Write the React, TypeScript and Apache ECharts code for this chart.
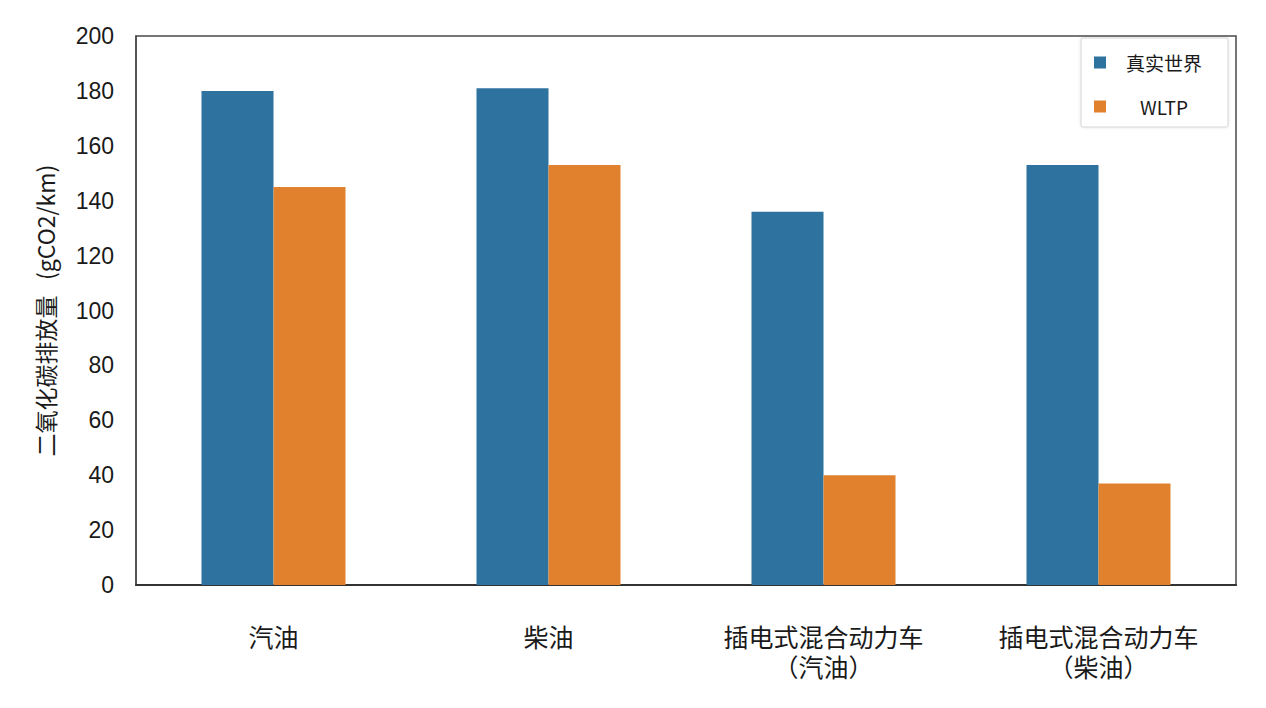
import React, { useEffect, useRef } from "react";
import * as echarts from "echarts";

const categories = ["汽油", "柴油", "插电式混合动力车\n（汽油）", "插电式混合动力车\n（柴油）"];
const realWorld = [180, 181, 136, 153];
const wltp = [145, 153, 40, 37];
const yTicks = { min: 0, max: 200, interval: 20 };

export default function App() {
	const chartRef = useRef<HTMLDivElement>(null);

	useEffect(() => {
		if (!chartRef.current) return;
		const chart = echarts.init(chartRef.current, undefined, { renderer: "svg" });

		chart.setOption({
			animation: false,
			backgroundColor: "#fff",
			grid: {
				left: 136,
				right: 30,
				top: 36,
				bottom: 123,
				show: true,
				borderColor: "#4a4a4a",
				borderWidth: 1.5,
			},
			legend: {
				orient: "vertical",
				left: 1081,
				top: 38,
				padding: [15, 11, 11, 13],
				itemGap: 25,
				itemWidth: 12,
				itemHeight: 12,
				icon: "rect",
				borderColor: "#d6d6d6",
				borderWidth: 1,
				borderRadius: 2,
				shadowBlur: 3,
				shadowColor: "rgba(0,0,0,0.12)",
				backgroundColor: "#fff",
				formatter: (name: string) => `{c|${name}}`,
				textStyle: {
					rich: {
						c: {
							width: 106,
							align: "center",
							fontSize: 19,
							lineHeight: 20,
							color: "#1a1a1a",
							fontFamily: "'Noto Sans CJK SC', 'Noto Sans', sans-serif",
						},
					},
				},
				data: ["真实世界", "WLTP"],
			},
			xAxis: {
				type: "category",
				data: categories,
				axisLine: { lineStyle: { color: "#333", width: 2 } },
				axisTick: { alignWithLabel: true, length: 6, lineStyle: { color: "#333" } },
				axisLabel: {
					color: "#1a1a1a",
					fontSize: 25,
					lineHeight: 30,
					margin: 36,
					fontFamily: "'Noto Sans CJK SC', sans-serif",
				},
			},
			yAxis: {
				type: "value",
				min: yTicks.min,
				max: yTicks.max,
				interval: yTicks.interval,
				name: "二氧化碳排放量   (gCO2/km)",
				nameLocation: "middle",
				nameGap: 80,
				nameTextStyle: {
					color: "#1a1a1a",
					fontSize: 23,
					fontFamily: "'Noto Sans CJK SC', sans-serif",
				},
				axisLine: { show: true, lineStyle: { color: "#4a4a4a", width: 1.5 } },
				axisTick: { show: false },
				splitLine: { show: false },
				axisLabel: {
					color: "#1a1a1a",
					fontSize: 23,
					margin: 22,
					fontFamily: "'Liberation Sans', Arial, sans-serif",
				},
			},
			series: [
				{
					name: "真实世界",
					type: "bar",
					data: realWorld,
					barWidth: 72,
					barGap: "0%",
					itemStyle: { color: "#2E73A0" },
				},
				{
					name: "WLTP",
					type: "bar",
					data: wltp,
					barWidth: 72,
					barGap: "0%",
					itemStyle: { color: "#E1812D" },
				},
			],
		});

		const onResize = () => chart.resize();
		window.addEventListener("resize", onResize);
		return () => {
			window.removeEventListener("resize", onResize);
			chart.dispose();
		};
	}, []);

	return <div ref={chartRef} style={{ position: "fixed", left: 0, top: 0, width: 1266, height: 708 }} />;
}
